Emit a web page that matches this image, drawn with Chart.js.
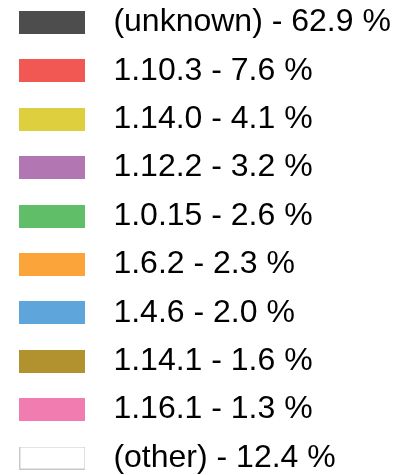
<!DOCTYPE html>
<html>
<head>
<meta charset="utf-8">
<script src="https://cdn.jsdelivr.net/npm/chart.js@4/dist/chart.umd.min.js"></script>
<style>
  html, body { margin: 0; padding: 0; background: #fff; overflow: hidden; }
  #wrap { position: relative; width: 403px; height: 475px; overflow: hidden; }
  /* legend's own padding pushes rows right/down, so the canvas is nudged back */
  #box { position: absolute; left: -9.5px; top: -10px; width: 440px; height: 520px; }
</style>
</head>
<body>
<div id="wrap">
  <div id="box"><canvas id="versionChart"></canvas></div>
</div>
<script>
// version share (percent)
const versions = ['(unknown)', '1.10.3', '1.14.0', '1.12.2', '1.0.15', '1.6.2', '1.4.6', '1.14.1', '1.16.1', '(other)'];
const shares   = [62.9, 7.6, 4.1, 3.2, 2.6, 2.3, 2.0, 1.6, 1.3, 12.4];
const colors   = ['#4d4d4d', '#f15854', '#decf3f', '#b276b2', '#60bd68', '#faa43a', '#5da5da', '#b2912f', '#f17cb0', '#ffffff'];

const FONT_SIZE = 32;

// swatch bitmaps used as legend point styles
function makeSwatch(color) {
  const c = document.createElement('canvas');
  c.width = 66;
  c.height = 23;
  const g = c.getContext('2d');
  g.fillStyle = color;
  g.fillRect(0, 0, 66, 23);
  if (color === '#ffffff') {
    g.strokeStyle = '#c8c8c8';
    g.lineWidth = 1;
    g.strokeRect(0.5, 0.5, 65, 22);
  }
  return c;
}
const swatches = colors.map(makeSwatch);

new Chart(document.getElementById('versionChart'), {
  type: 'pie',
  data: {
    labels: versions,
    datasets: [{
      data: shares,
      backgroundColor: colors,
      borderWidth: 0,
      radius: 0
    }]
  },
  options: {
    responsive: true,
    maintainAspectRatio: false,
    animation: false,
    events: [],
    plugins: {
      tooltip: { enabled: false },
      legend: {
        position: 'left',
        align: 'start',
        maxWidth: 1000,
        labels: {
          usePointStyle: true,
          pointStyleWidth: 90,
          padding: 16.4,
          color: '#111111',
          font: { family: '"Liberation Sans", Arial, sans-serif', size: FONT_SIZE },
          generateLabels: chart => chart.data.labels.map((label, i) => ({
            text: label + ' - ' + shares[i].toFixed(1) + ' %',
            fillStyle: colors[i],
            strokeStyle: colors[i],
            lineWidth: 0,
            pointStyle: swatches[i],
            hidden: false,
            index: i
          }))
        }
      }
    }
  }
});
</script>
</body>
</html>
